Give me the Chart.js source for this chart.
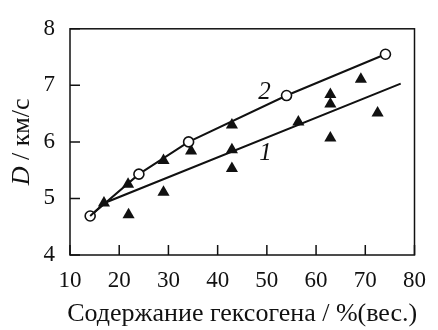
<!DOCTYPE html>
<html><head><meta charset="utf-8">
<script src="https://cdn.jsdelivr.net/npm/chart.js@4"></script>
<style>html,body{margin:0;padding:0;background:#fff;}#wrap{position:relative;width:438px;height:330px;}</style>
</head><body><div id="wrap"><canvas id="c" width="438" height="330"></canvas></div>
<script>
// ---- data ----
const xTicks = [10, 20, 30, 40, 50, 60, 70, 80];
const yTicks = [4, 5, 6, 7, 8];
// curve 2 (open circles joined by a line)
const curve2X = [14.1, 24.0, 34.1, 54.0, 74.1];
const curve2Y = [4.69, 5.43, 6.00, 6.82, 7.55];
// curve 1 (line only)
const curve1X = [14.1, 17.0, 77.2];
const curve1Y = [4.69, 4.92, 7.03];
// experimental points (filled triangles)
const triX = [16.9, 21.9, 21.8, 29.0, 29.0, 34.6, 42.9, 42.9, 42.9, 56.4, 62.9, 62.9, 62.9, 69.1, 72.5];
const triY = [4.92, 4.71, 5.25, 5.67, 5.11, 5.84, 6.30, 5.86, 5.53, 6.35, 6.84, 6.67, 6.07, 7.11, 6.51];
// curve labels and their anchor values
const curveLabels = ['1', '2'];
const labelX = [49.7, 49.5];
const labelY = [5.79, 6.88];
const xTitle = 'Содержание гексогена / %(вес.)';
const yTitleItalic = 'D';
const yTitleRest = ' / км/с';

const SERIF = '"Liberation Serif"';
const FS = 23;      // tick labels
const FT = 26;      // axis titles
const FL = 25;      // curve labels
const toPts = (xs, ys) => xs.map((x, i) => ({x: x, y: ys[i]}));

const decor = {
  id: 'decor',
  afterDraw(chart) {
    const {ctx, chartArea: a, scales: {x, y}} = chart;
    ctx.save();
    ctx.strokeStyle = '#111';
    ctx.lineWidth = 1.5;
    ctx.strokeRect(a.left, a.top, a.right - a.left, a.bottom - a.top);
    ctx.beginPath();
    xTicks.forEach(v => { const px = x.getPixelForValue(v); ctx.moveTo(px, a.bottom); ctx.lineTo(px, a.bottom - 10); });
    yTicks.forEach(v => { const py = y.getPixelForValue(v); ctx.moveTo(a.left, py); ctx.lineTo(a.left + 10, py); });
    ctx.stroke();
    ctx.fillStyle = '#111';
    ctx.font = 'italic ' + FL + 'px ' + SERIF;
    ctx.textAlign = 'center';
    ctx.textBaseline = 'middle';
    curveLabels.forEach((t, i) => ctx.fillText(t, x.getPixelForValue(labelX[i]), y.getPixelForValue(labelY[i])));
    ctx.font = FT + 'px ' + SERIF;
    ctx.fillText(xTitle, (a.left + a.right) / 2, 314);
    ctx.translate(22, (a.top + a.bottom) / 2);
    ctx.rotate(-Math.PI / 2);
    ctx.textAlign = 'left';
    ctx.font = 'italic ' + FT + 'px ' + SERIF;
    const w1 = ctx.measureText(yTitleItalic).width;
    ctx.font = FT + 'px ' + SERIF;
    const w2 = ctx.measureText(yTitleRest).width;
    const start = -(w1 + w2) / 2;
    ctx.font = 'italic ' + FT + 'px ' + SERIF;
    ctx.fillText(yTitleItalic, start, 0);
    ctx.font = FT + 'px ' + SERIF;
    ctx.fillText(yTitleRest, start + w1, 0);
    ctx.restore();
  }
};

new Chart(document.getElementById('c'), {
  type: 'scatter',
  data: {
    datasets: [
      {
        label: '1', data: toPts(curve1X, curve1Y), showLine: true,
        borderColor: '#111', borderWidth: 2, pointRadius: 0, fill: false
      },
      {
        label: '2', data: toPts(curve2X, curve2Y), showLine: true,
        borderColor: '#111', borderWidth: 2, pointRadius: 5, pointBorderWidth: 1.6,
        pointBackgroundColor: '#fff', pointBorderColor: '#111', fill: false
      },
      {
        label: 'exp', data: toPts(triX, triY), showLine: false,
        pointStyle: 'triangle', pointRadius: 7, pointBackgroundColor: '#111',
        pointBorderColor: '#111', pointBorderWidth: 0
      }
    ]
  },
  options: {
    responsive: false, animation: false, devicePixelRatio: 1,
    layout: {padding: {top: 20, right: 15.3, left: 0, bottom: 0}},
    plugins: {legend: {display: false}, tooltip: {enabled: false}},
    scales: {
      x: {
        type: 'linear', min: 10, max: 80,
        afterBuildTicks: s => { s.ticks = xTicks.map(v => ({value: v})); },
        afterFit: s => { s.height = 75; },
        grid: {display: false, drawTicks: false},
        border: {display: false},
        ticks: {font: {family: SERIF, size: FS}, color: '#111', padding: 12, maxRotation: 0}
      },
      y: {
        type: 'linear', min: 4, max: 8,
        afterBuildTicks: s => { s.ticks = yTicks.map(v => ({value: v})); },
        afterFit: s => { s.width = 70; },
        grid: {display: false, drawTicks: false},
        border: {display: false},
        ticks: {font: {family: SERIF, size: FS}, color: '#111', padding: 15}
      }
    }
  },
  plugins: [decor]
});
</script></body></html>
